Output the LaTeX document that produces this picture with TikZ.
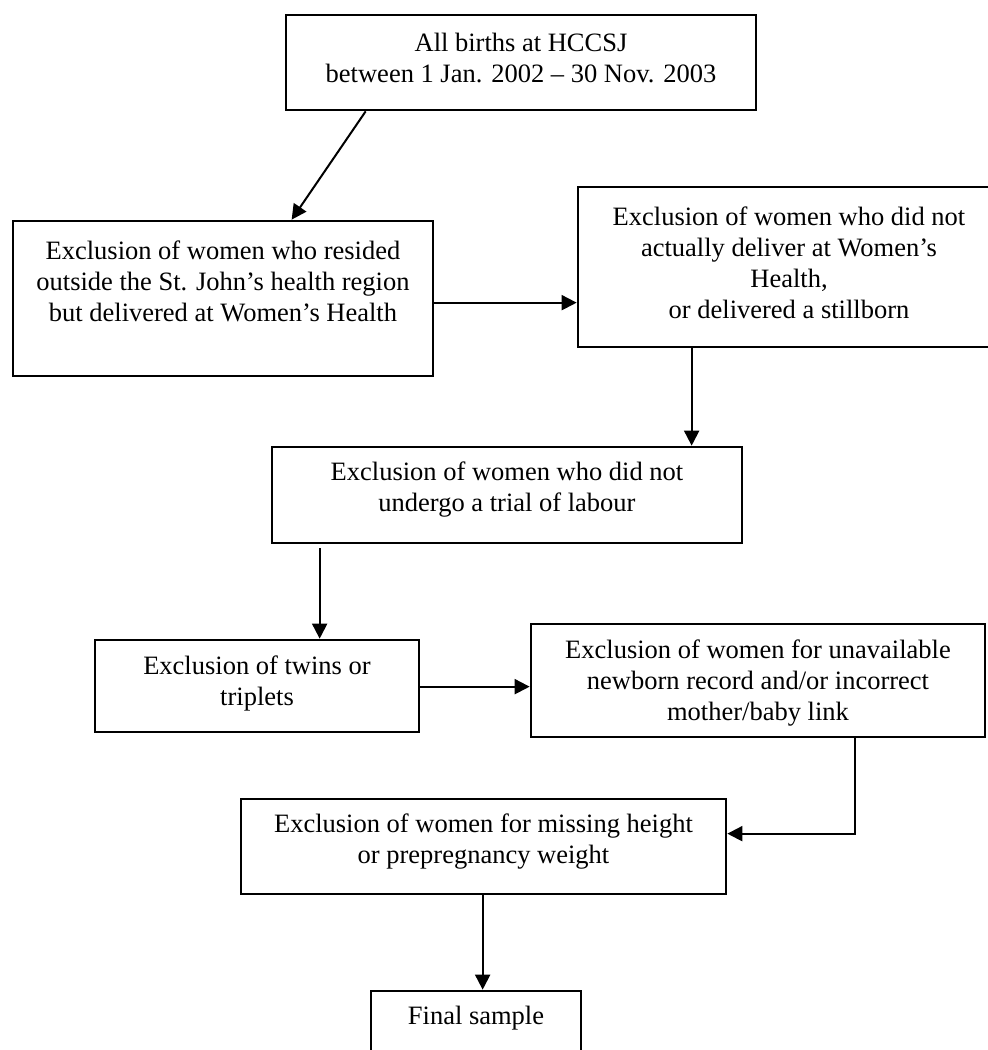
\documentclass[tikz,border=0pt]{standalone}
\usepackage{fontspec}
\setmainfont{Liberation Serif}
\usetikzlibrary{arrows.meta,calc}
\begin{document}
\begin{tikzpicture}[x=1pt,y=-1pt,
  box/.style={draw=black, line width=2.7pt, inner sep=0pt, fill=none},
  txt/.style={align=center, inner sep=0pt, font=\fontsize{26.5}{31}\selectfont},
  arr/.style={line width=2pt, -{Triangle[length=15pt,width=15pt]}},
  ln/.style={line width=2pt}]
\useasboundingbox (0,0) rectangle (988,1050);
\fill[white] (0,0) rectangle (988,1050);
\clip (0,0) rectangle (988,1050);
% boxes
\node[box, minimum width=470pt, minimum height=95pt]  (b1) at (521,62.5) {};
\node[box, minimum width=420pt, minimum height=155pt] (b2) at (223,298.5) {};
\node[box, minimum width=422pt, minimum height=160pt] (b3) at (789,267) {};
\node[box, minimum width=470pt, minimum height=96pt]  (b4) at (507,495) {};
\node[box, minimum width=324pt, minimum height=92pt]  (b5) at (257,686) {};
\node[box, minimum width=454pt, minimum height=113pt] (b6) at (758,680.5) {};
\node[box, minimum width=485pt, minimum height=95pt]  (b7) at (483.5,846.5) {};
\node[box, minimum width=210pt, minimum height=100pt] (b8) at (476,1041) {};
% texts
\node[txt] (t1) at (521,58) {All births at HCCSJ\\between 1 Jan. 2002 – 30 Nov. 2003};
\node[txt] (t2) at (223,281) {Exclusion of women who resided\\outside the St. John’s health region\\but delivered at Women’s Health};
\node[txt] (t3) at (789,263) {Exclusion of women who did not\\actually deliver at Women’s\\Health,\\or delivered a stillborn};
\node[txt] (t4) at (507,490) {Exclusion of women who did not\\undergo a trial of labour};
\node[txt] (t5) at (257,683) {Exclusion of twins or\\triplets};
\node[txt] (t6) at (758,683) {Exclusion of women for unavailable\\newborn record and/or incorrect\\mother/baby link};
\node[txt] (t7) at (483.5,842) {Exclusion of women for missing height\\or prepregnancy weight};
\node[txt] (t8) at (476,1018) {Final sample};
% connector anchors
\coordinate (c1s) at ($(b1.south west)+(81,0)$);
\coordinate (c1e) at ($(b2.north west)+(280,0)$);
\coordinate (c2) at ($(b2.north east)+(0,83)$);
\coordinate (c3) at ($(b3.south west)+(115,0)$);
\coordinate (c4) at ($(b4.south west)+(49,4)$);
\coordinate (c5) at ($(b5.north east)+(0,48)$);
\coordinate (c6) at ($(b6.south west)+(325,0)$);
\coordinate (c7) at ($(b7.north east)+(0,36)$);
\coordinate (c8) at ($(b7.south west)+(243,0)$);
% connectors
\draw[arr] (c1s) -- (c1e);
\draw[arr] (c2) -- (c2 -| b3.west);
\draw[arr] (c3) -- (c3 |- b4.north);
\draw[arr] (c4) -- (c4 |- b5.north);
\draw[arr] (c5) -- (c5 -| b6.west);
\draw[arr] (c6) |- (c7);
\draw[arr] (c8) -- (c8 |- b8.north);
\end{tikzpicture}
\end{document}
